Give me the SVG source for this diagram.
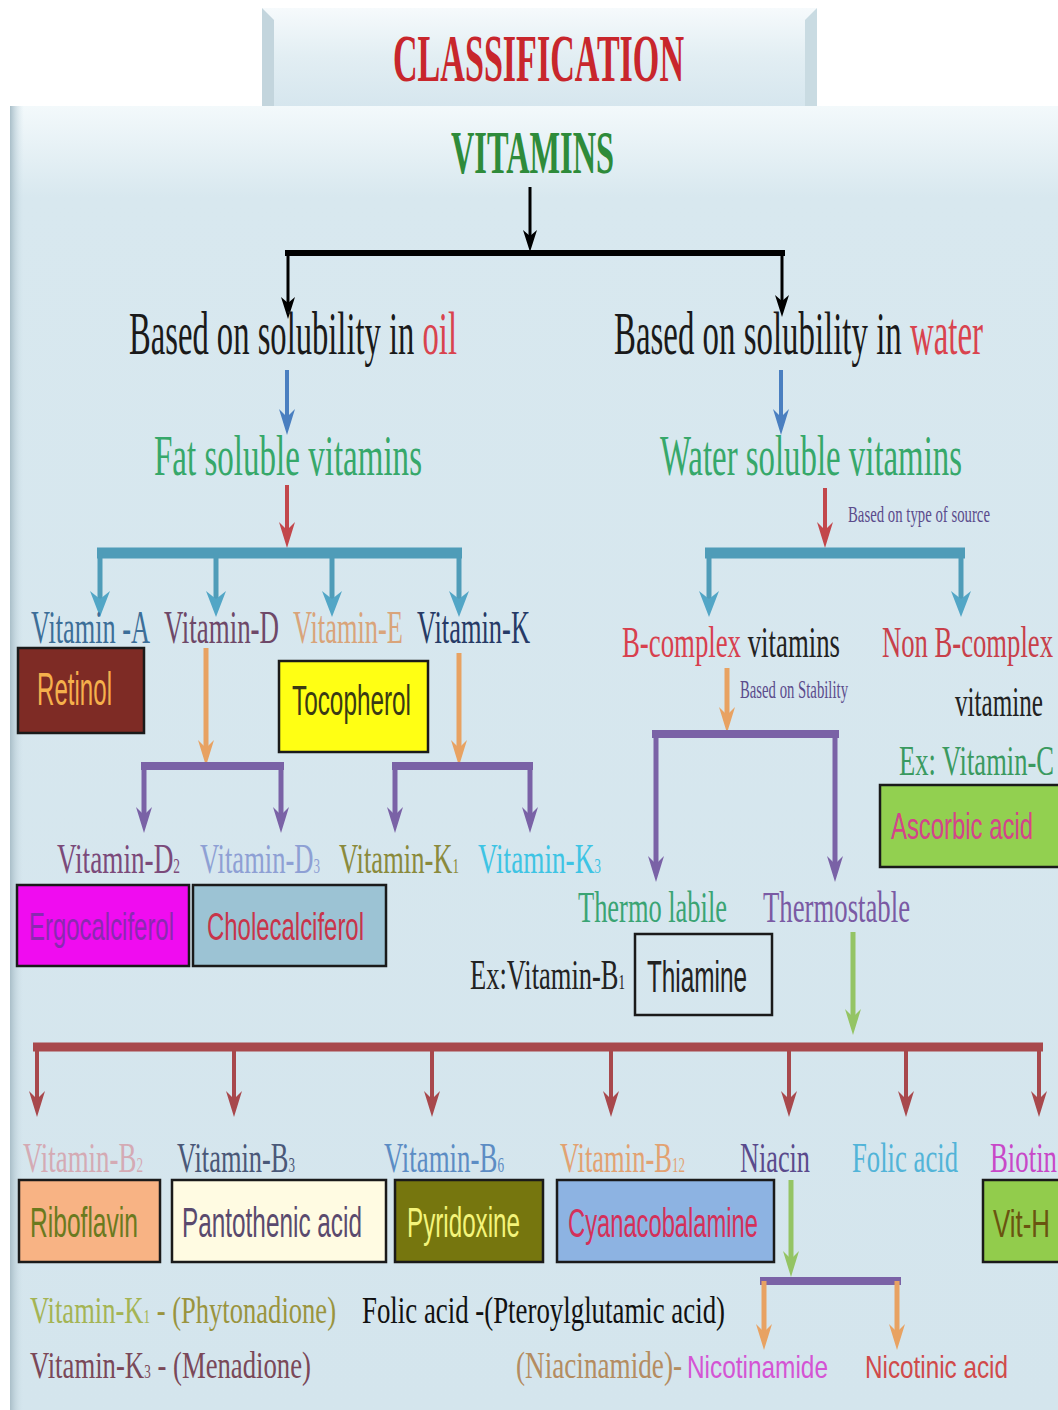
<svg xmlns="http://www.w3.org/2000/svg" width="1058" height="1410" viewBox="0 0 1058 1410">
<defs>
<linearGradient id="gTop" x1="0" y1="0" x2="0" y2="1">
<stop offset="0" stop-color="#f6fafc"/><stop offset="0.5" stop-color="#e2eef3"/><stop offset="1" stop-color="#d6e6ee"/>
</linearGradient>
<linearGradient id="gMain" x1="0" y1="0" x2="0" y2="1">
<stop offset="0" stop-color="#f3f9fb"/><stop offset="0.07" stop-color="#d8e8ef"/><stop offset="1" stop-color="#d4e5ed"/>
</linearGradient>
<linearGradient id="gLeft" x1="0" y1="0" x2="1" y2="0">
<stop offset="0" stop-color="#a9bec8"/><stop offset="1" stop-color="#d4e5ed" stop-opacity="0"/>
</linearGradient>
<marker id="m-black" markerUnits="userSpaceOnUse" markerWidth="22" markerHeight="18" viewBox="0 0 22 18" refX="6" refY="9" orient="auto"><path d="M0,2 L22,9 L0,16 L6,9 z" fill="#000"/></marker>
<marker id="m-blue" markerUnits="userSpaceOnUse" markerWidth="26" markerHeight="20" viewBox="0 0 26 20" refX="10" refY="10" orient="auto"><path d="M0,2 L26,10 L0,18 L8,10 z" fill="#4a7fc0"/></marker>
<marker id="m-red" markerUnits="userSpaceOnUse" markerWidth="26" markerHeight="20" viewBox="0 0 26 20" refX="10" refY="10" orient="auto"><path d="M0,2 L26,10 L0,18 L8,10 z" fill="#c2474b"/></marker>
<marker id="m-teal" markerUnits="userSpaceOnUse" markerWidth="26" markerHeight="22" viewBox="0 0 26 22" refX="10" refY="11" orient="auto"><path d="M0,1 L26,11 L0,21 L8,11 z" fill="#52a6c6"/></marker>
<marker id="m-orange" markerUnits="userSpaceOnUse" markerWidth="26" markerHeight="20" viewBox="0 0 26 20" refX="10" refY="10" orient="auto"><path d="M0,2 L26,10 L0,18 L8,10 z" fill="#e8a262"/></marker>
<marker id="m-purple" markerUnits="userSpaceOnUse" markerWidth="26" markerHeight="20" viewBox="0 0 26 20" refX="10" refY="10" orient="auto"><path d="M0,2 L26,10 L0,18 L8,10 z" fill="#7a62a6"/></marker>
<marker id="m-green" markerUnits="userSpaceOnUse" markerWidth="26" markerHeight="20" viewBox="0 0 26 20" refX="10" refY="10" orient="auto"><path d="M0,2 L26,10 L0,18 L8,10 z" fill="#94c464"/></marker>
<marker id="m-brown" markerUnits="userSpaceOnUse" markerWidth="26" markerHeight="20" viewBox="0 0 26 20" refX="10" refY="10" orient="auto"><path d="M0,2 L26,10 L0,18 L8,10 z" fill="#a8484c"/></marker>
</defs>
<style>
text{font-family:"Liberation Serif","Times New Roman",serif;}
.sans{font-family:"Liberation Sans",Arial,sans-serif;}
.row{font-size:26.5px;}
.box{stroke:#1a1a1a;stroke-width:2.5;}
.bt{font-family:"Liberation Sans",Arial,sans-serif;font-size:24px;}
.sub{font-size:13px;}
.c-black{stroke:#000;fill:none;}
.c-blue{stroke:#4a7fc0;stroke-width:4;fill:none;}
.c-red{stroke:#c2474b;stroke-width:4;fill:none;}
.c-teal{stroke:#4f9cb8;fill:none;}
.c-orange{stroke:#e8a262;stroke-width:5;fill:none;}
.c-purple{stroke:#7a62a6;fill:none;}
.c-green{stroke:#94c464;stroke-width:5;fill:none;}
.c-brown{stroke:#a8484c;fill:none;}
</style>

<!-- background panels -->
<rect x="0" y="0" width="1058" height="1410" fill="#ffffff"/>
<rect x="262" y="8" width="555" height="98" fill="url(#gTop)"/>
<polygon points="262,8 274,20 274,106 262,106" fill="#c3d5dd"/>
<polygon points="817,8 805,20 805,106 817,106" fill="#c9dbe2"/>
<rect x="10" y="106" width="1048" height="1304" fill="url(#gMain)"/>
<rect x="10" y="106" width="14" height="1304" fill="url(#gLeft)"/>

<g id="title">
<text x="393" y="81" font-size="34" font-weight="bold" fill="#c8262c" textLength="291" lengthAdjust="spacingAndGlyphs" transform="matrix(1 0 0 1.97 0 -78.57)">CLASSIFICATION</text>
</g>
<g id="vitamins">
<text x="451" y="173" font-size="32" font-weight="bold" fill="#2e8b3a" textLength="163" lengthAdjust="spacingAndGlyphs" transform="matrix(1 0 0 1.9 0 -155.7)">VITAMINS</text>
</g>

<g id="connectors">
<line class="c-black" x1="530" y1="187" x2="530" y2="236" stroke-width="3" marker-end="url(#m-black)"/>
<line class="c-black" x1="285" y1="253" x2="785" y2="253" stroke-width="6"/>
<line class="c-black" x1="288" y1="253" x2="288" y2="303" stroke-width="3" marker-end="url(#m-black)"/>
<line class="c-black" x1="782" y1="253" x2="782" y2="301" stroke-width="3" marker-end="url(#m-black)"/>

<line class="c-blue" x1="287" y1="370" x2="287" y2="419" marker-end="url(#m-blue)"/>
<line class="c-blue" x1="781" y1="370" x2="781" y2="419" marker-end="url(#m-blue)"/>

<line class="c-red" x1="287" y1="485" x2="287" y2="532" marker-end="url(#m-red)"/>
<line class="c-red" x1="825" y1="488" x2="825" y2="532" marker-end="url(#m-red)"/>

<line class="c-teal" x1="97" y1="553" x2="462" y2="553" stroke-width="11"/>
<line class="c-teal" x1="100" y1="553" x2="100" y2="601" stroke-width="5" marker-end="url(#m-teal)"/>
<line class="c-teal" x1="216" y1="553" x2="216" y2="601" stroke-width="5" marker-end="url(#m-teal)"/>
<line class="c-teal" x1="332" y1="553" x2="332" y2="601" stroke-width="5" marker-end="url(#m-teal)"/>
<line class="c-teal" x1="459" y1="553" x2="459" y2="601" stroke-width="5" marker-end="url(#m-teal)"/>
<line class="c-teal" x1="705" y1="553" x2="965" y2="553" stroke-width="11"/>
<line class="c-teal" x1="709" y1="553" x2="709" y2="601" stroke-width="5" marker-end="url(#m-teal)"/>
<line class="c-teal" x1="961" y1="553" x2="961" y2="601" stroke-width="5" marker-end="url(#m-teal)"/>

<line class="c-orange" x1="206" y1="648" x2="206" y2="750" marker-end="url(#m-orange)"/>
<line class="c-orange" x1="459" y1="653" x2="459" y2="750" marker-end="url(#m-orange)"/>
<line class="c-purple" x1="141" y1="766" x2="284" y2="766" stroke-width="8"/>
<line class="c-purple" x1="144" y1="766" x2="144" y2="817" stroke-width="5" marker-end="url(#m-purple)"/>
<line class="c-purple" x1="281" y1="766" x2="281" y2="817" stroke-width="5" marker-end="url(#m-purple)"/>
<line class="c-purple" x1="392" y1="766" x2="533" y2="766" stroke-width="8"/>
<line class="c-purple" x1="395" y1="766" x2="395" y2="817" stroke-width="5" marker-end="url(#m-purple)"/>
<line class="c-purple" x1="530" y1="766" x2="530" y2="817" stroke-width="5" marker-end="url(#m-purple)"/>

<line class="c-orange" x1="727" y1="668" x2="727" y2="717" marker-end="url(#m-orange)"/>
<line class="c-purple" x1="652" y1="734" x2="839" y2="734" stroke-width="8"/>
<line class="c-purple" x1="656" y1="734" x2="656" y2="866" stroke-width="5" marker-end="url(#m-purple)"/>
<line class="c-purple" x1="835" y1="734" x2="835" y2="866" stroke-width="5" marker-end="url(#m-purple)"/>

<line class="c-green" x1="853" y1="932" x2="853" y2="1019" marker-end="url(#m-green)"/>
<line class="c-brown" x1="33" y1="1047" x2="1043" y2="1047" stroke-width="9"/>
<line class="c-brown" x1="37" y1="1047" x2="37" y2="1101" stroke-width="4" marker-end="url(#m-brown)"/>
<line class="c-brown" x1="234" y1="1047" x2="234" y2="1101" stroke-width="4" marker-end="url(#m-brown)"/>
<line class="c-brown" x1="432" y1="1047" x2="432" y2="1101" stroke-width="4" marker-end="url(#m-brown)"/>
<line class="c-brown" x1="611" y1="1047" x2="611" y2="1101" stroke-width="4" marker-end="url(#m-brown)"/>
<line class="c-brown" x1="789" y1="1047" x2="789" y2="1101" stroke-width="4" marker-end="url(#m-brown)"/>
<line class="c-brown" x1="906" y1="1047" x2="906" y2="1101" stroke-width="4" marker-end="url(#m-brown)"/>
<line class="c-brown" x1="1039" y1="1047" x2="1039" y2="1101" stroke-width="4" marker-end="url(#m-brown)"/>

<line class="c-green" x1="791" y1="1180" x2="791" y2="1261" marker-end="url(#m-green)"/>
<line class="c-purple" x1="760" y1="1281" x2="901" y2="1281" stroke-width="8"/>
<line class="c-orange" x1="764" y1="1281" x2="764" y2="1334" marker-end="url(#m-orange)"/>
<line class="c-orange" x1="897" y1="1281" x2="897" y2="1334" marker-end="url(#m-orange)"/>
</g>

<g id="oil">
<text x="129" y="354" font-size="32.6" fill="#1a1a1a" textLength="328" lengthAdjust="spacingAndGlyphs" transform="matrix(1 0 0 1.9 0 -318.6)">Based on solubility in <tspan fill="#d9434e">oil</tspan></text>
</g>
<g id="water">
<text x="614" y="354" font-size="32.6" fill="#1a1a1a" textLength="369" lengthAdjust="spacingAndGlyphs" transform="matrix(1 0 0 1.9 0 -318.6)">Based on solubility in <tspan fill="#d9434e">water</tspan></text>
</g>
<g id="fat-soluble">
<text x="154" y="475" font-size="32.8" fill="#36a86a" textLength="268" lengthAdjust="spacingAndGlyphs" transform="matrix(1 0 0 1.75 0 -356.25)">Fat soluble vitamins</text>
</g>
<g id="water-soluble">
<text x="660" y="475" font-size="32.8" fill="#36a86a" textLength="302" lengthAdjust="spacingAndGlyphs" transform="matrix(1 0 0 1.75 0 -356.25)">Water soluble vitamins</text>
</g>
<g id="label-source">
<text x="848" y="522" font-size="14.8" fill="#5b4c8c" textLength="142" lengthAdjust="spacingAndGlyphs" transform="matrix(1 0 0 1.5 0 -261)">Based on type of source</text>
</g>

<g id="vit-a">
<text class="row" x="31" y="643" fill="#3c6e98" textLength="119" lengthAdjust="spacingAndGlyphs" transform="matrix(1 0 0 1.72 0 -462.96)">Vitamin -A</text>
<rect class="box" x="18" y="648" width="126" height="85" fill="#7e2b25"/>
<text class="bt" x="37" y="705" fill="#f5b04c" textLength="75" lengthAdjust="spacingAndGlyphs" transform="matrix(1 0 0 1.9 0 -634.5)">Retinol</text>
</g>
<g id="vit-d">
<text class="row" x="164" y="643" fill="#6e4868" textLength="115" lengthAdjust="spacingAndGlyphs" transform="matrix(1 0 0 1.72 0 -462.96)">Vitamin-D</text>
</g>
<g id="vit-e">
<text class="row" x="293" y="643" fill="#d9a47a" textLength="110" lengthAdjust="spacingAndGlyphs" transform="matrix(1 0 0 1.72 0 -462.96)">Vitamin-E</text>
<rect class="box" x="279" y="661" width="149" height="91" fill="#ffff14"/>
<text class="bt" x="292" y="715" fill="#3a3a14" textLength="119" lengthAdjust="spacingAndGlyphs" transform="matrix(1 0 0 1.76 0 -543.4)">Tocopherol</text>
</g>
<g id="vit-k">
<text class="row" x="417" y="643" fill="#263a66" textLength="113" lengthAdjust="spacingAndGlyphs" transform="matrix(1 0 0 1.72 0 -462.96)">Vitamin-K</text>
</g>

<g id="vit-d2">
<text class="row" x="57" y="873" fill="#7b4a7a" textLength="123" lengthAdjust="spacingAndGlyphs" transform="matrix(1 0 0 1.6 0 -523.8)">Vitamin-D<tspan class="sub">2</tspan></text>
<rect class="box" x="17" y="885" width="172" height="81" fill="#f00cf0"/>
<text class="bt" x="29" y="940" fill="#8a2ab0" textLength="145" lengthAdjust="spacingAndGlyphs" transform="matrix(1 0 0 1.64 0 -601.6)">Ergocalciferol</text>
</g>
<g id="vit-d3">
<text class="row" x="200" y="873" fill="#8ea0d4" textLength="120" lengthAdjust="spacingAndGlyphs" transform="matrix(1 0 0 1.6 0 -523.8)">Vitamin-D<tspan class="sub">3</tspan></text>
<rect class="box" x="193" y="885" width="193" height="81" fill="#9cc3d4"/>
<text class="bt" x="207" y="940" fill="#c8344a" textLength="157" lengthAdjust="spacingAndGlyphs" transform="matrix(1 0 0 1.64 0 -601.6)">Cholecalciferol</text>
</g>
<g id="vit-k1">
<text class="row" x="339" y="873" fill="#8a8a3c" textLength="120" lengthAdjust="spacingAndGlyphs" transform="matrix(1 0 0 1.6 0 -523.8)">Vitamin-K<tspan class="sub">1</tspan></text>
</g>
<g id="vit-k3">
<text class="row" x="478" y="873" fill="#3ec4e4" textLength="123" lengthAdjust="spacingAndGlyphs" transform="matrix(1 0 0 1.6 0 -523.8)">Vitamin-K<tspan class="sub">3</tspan></text>
</g>

<g id="b-complex">
<text class="row" x="622" y="657" fill="#222" textLength="218" lengthAdjust="spacingAndGlyphs" transform="matrix(1 0 0 1.7 0 -459.9)"><tspan fill="#d8404e">B-complex</tspan> vitamins</text>
</g>
<g id="label-stability">
<text x="740" y="698" font-size="14.7" fill="#5b4c8c" textLength="108" lengthAdjust="spacingAndGlyphs" transform="matrix(1 0 0 1.7 0 -488.6)">Based on Stability</text>
</g>
<g id="non-b-complex">
<text class="row" x="882" y="657" fill="#c8404a" textLength="171" lengthAdjust="spacingAndGlyphs" transform="matrix(1 0 0 1.7 0 -459.9)">Non B-complex</text>
<text x="955" y="716" font-size="25" fill="#222" textLength="88" lengthAdjust="spacingAndGlyphs" transform="matrix(1 0 0 1.7 0 -501.2)">vitamine</text>
<text class="row" x="899" y="775" fill="#3a9a60" textLength="155" lengthAdjust="spacingAndGlyphs" transform="matrix(1 0 0 1.6 0 -465)">Ex: Vitamin-C</text>
<rect class="box" x="880" y="785" width="180" height="82" fill="#92d050"/>
<text class="bt" x="891" y="839" fill="#d4448a" textLength="142" lengthAdjust="spacingAndGlyphs" transform="matrix(1 0 0 1.55 0 -461.45)">Ascorbic acid</text>
</g>

<g id="thermo-labile">
<text class="row" x="578" y="922" fill="#3aa474" textLength="149" lengthAdjust="spacingAndGlyphs" transform="matrix(1 0 0 1.65 0 -599.3)">Thermo labile</text>
<text class="row" x="470" y="989" fill="#222" textLength="155" lengthAdjust="spacingAndGlyphs" transform="matrix(1 0 0 1.62 0 -613.18)">Ex:Vitamin-B<tspan class="sub">1</tspan></text>
<rect class="box" x="635" y="934" width="137" height="81" fill="none"/>
<text class="bt" x="647" y="992" fill="#222" textLength="100" lengthAdjust="spacingAndGlyphs" transform="matrix(1 0 0 1.84 0 -833.28)">Thiamine</text>
</g>
<g id="thermostable">
<text class="row" x="763" y="922" fill="#7a5aa4" textLength="147" lengthAdjust="spacingAndGlyphs" transform="matrix(1 0 0 1.65 0 -599.3)">Thermostable</text>
</g>

<g id="vit-b2">
<text class="row" x="23" y="1172" fill="#d4aab4" textLength="120" lengthAdjust="spacingAndGlyphs" transform="matrix(1 0 0 1.6 0 -703.2)">Vitamin-B<tspan class="sub">2</tspan></text>
<rect class="box" x="19" y="1180" width="141" height="82" fill="#f8b384"/>
<text class="bt" x="30" y="1237" fill="#6a7a1e" textLength="108" lengthAdjust="spacingAndGlyphs" transform="matrix(1 0 0 1.8 0 -989.6)">Riboflavin</text>
</g>
<g id="vit-b3">
<text class="row" x="177" y="1172" fill="#4a5878" textLength="118" lengthAdjust="spacingAndGlyphs" transform="matrix(1 0 0 1.6 0 -703.2)">Vitamin-B<tspan class="sub">3</tspan></text>
<rect class="box" x="172" y="1180" width="214" height="82" fill="#fffbe2"/>
<text class="bt" x="182" y="1237" fill="#5a4a6e" textLength="180" lengthAdjust="spacingAndGlyphs" transform="matrix(1 0 0 1.8 0 -989.6)">Pantothenic acid</text>
</g>
<g id="vit-b6">
<text class="row" x="384" y="1172" fill="#5c8cc4" textLength="120" lengthAdjust="spacingAndGlyphs" transform="matrix(1 0 0 1.6 0 -703.2)">Vitamin-B<tspan class="sub">6</tspan></text>
<rect class="box" x="395" y="1180" width="148" height="82" fill="#76760e"/>
<text class="bt" x="407" y="1237" fill="#f4f47a" textLength="113" lengthAdjust="spacingAndGlyphs" transform="matrix(1 0 0 1.8 0 -989.6)">Pyridoxine</text>
</g>
<g id="vit-b12">
<text class="row" x="560" y="1172" fill="#e2a272" textLength="125" lengthAdjust="spacingAndGlyphs" transform="matrix(1 0 0 1.6 0 -703.2)">Vitamin-B<tspan class="sub">12</tspan></text>
<rect class="box" x="557" y="1180" width="217" height="82" fill="#8db3e2"/>
<text class="bt" x="568" y="1237" fill="#d4305a" textLength="190" lengthAdjust="spacingAndGlyphs" transform="matrix(1 0 0 1.72 0 -890.64)">Cyanacobalamine</text>
</g>
<g id="niacin">
<text class="row" x="740" y="1172" fill="#5a4a8c" textLength="70" lengthAdjust="spacingAndGlyphs" transform="matrix(1 0 0 1.6 0 -703.2)">Niacin</text>
</g>
<g id="folic-acid">
<text class="row" x="852" y="1172" fill="#52b4d8" textLength="106" lengthAdjust="spacingAndGlyphs" transform="matrix(1 0 0 1.6 0 -703.2)">Folic acid</text>
</g>
<g id="biotin">
<text class="row" x="990" y="1172" fill="#c848c8" textLength="67" lengthAdjust="spacingAndGlyphs" transform="matrix(1 0 0 1.6 0 -703.2)">Biotin</text>
<rect class="box" x="983" y="1180" width="80" height="82" fill="#92cc4c"/>
<text class="bt" x="993" y="1237" fill="#6a5410" textLength="57" lengthAdjust="spacingAndGlyphs" transform="matrix(1 0 0 1.65 0 -804.05)">Vit-H</text>
</g>

<g id="notes">
<text class="row" x="30" y="1323" fill="#a4b454" textLength="306" lengthAdjust="spacingAndGlyphs" transform="matrix(1 0 0 1.45 0 -595.35)">Vitamin-K<tspan class="sub">1</tspan><tspan fill="#9a943e"> - (Phytonadione)</tspan></text>
<text class="row" x="30" y="1378" fill="#7a4858" textLength="281" lengthAdjust="spacingAndGlyphs" transform="matrix(1 0 0 1.45 0 -620.1)">Vitamin-K<tspan class="sub">3</tspan> - (Menadione)</text>
<text class="row" x="362" y="1323" fill="#111" textLength="363" lengthAdjust="spacingAndGlyphs" transform="matrix(1 0 0 1.45 0 -595.35)">Folic acid -(Pteroylglutamic acid)</text>
</g>
<g id="nicotinamide">
<text class="row" x="516" y="1378" fill="#b48c60" textLength="166" lengthAdjust="spacingAndGlyphs" transform="matrix(1 0 0 1.45 0 -620.1)">(Niacinamide)-</text>
<text class="bt" x="687" y="1378" fill="#d454d4" textLength="141" lengthAdjust="spacingAndGlyphs" transform="matrix(1 0 0 1.3 0 -413.4)">Nicotinamide</text>
</g>
<g id="nicotinic-acid">
<text class="bt" x="865" y="1378" fill="#d04a4a" textLength="143" lengthAdjust="spacingAndGlyphs" transform="matrix(1 0 0 1.3 0 -413.4)">Nicotinic acid</text>
</g>
</svg>
